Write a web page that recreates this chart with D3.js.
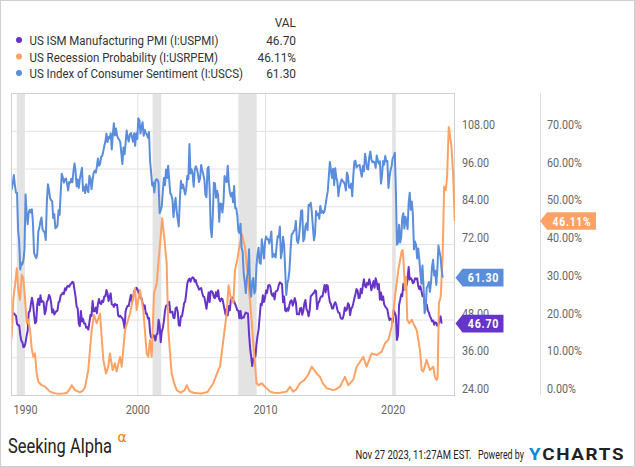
<!DOCTYPE html>
<html><head><meta charset="utf-8">
<script src="https://cdn.jsdelivr.net/npm/d3@7"></script>
<style>html,body{margin:0;padding:0;background:#fff}svg{display:block}</style>
</head><body><svg id="c" width="635" height="467"></svg>
<script>
// ---------- DATA ----------
const seriesNames = ["US ISM Manufacturing PMI (I:USPMI)", "US Recession Probability (I:USRPEM)", "US Index of Consumer Sentiment (I:USCS)"];
const seriesLast = ["46.70", "46.11%", "61.30"];
const startYear = 1990; // monthly series start in Jan 1990

// US Index of Consumer Sentiment, monthly Jan 1990 - Nov 2023
const sentiment = [
93.0,89.5,91.3,93.9,90.6,88.3,88.2,76.4,72.8,63.9,66.0,65.5,
66.8,70.4,87.7,81.8,78.3,82.1,82.9,82.0,83.0,78.3,69.1,68.2,
67.5,68.8,76.0,77.2,79.2,80.4,76.6,76.1,75.6,73.3,85.3,91.0,
89.3,86.6,85.9,85.6,80.3,81.5,77.0,77.3,77.9,82.7,81.2,88.2,
94.3,93.2,91.5,92.6,92.8,91.2,89.0,91.7,91.5,92.7,91.6,95.1,
97.6,95.1,90.3,92.5,89.8,92.7,94.4,96.2,88.9,90.2,88.2,91.0,
89.3,88.5,93.7,92.7,89.4,92.4,94.7,95.3,94.7,96.5,99.2,96.9,
97.4,99.7,100.0,101.4,103.2,104.5,107.1,104.4,106.0,105.6,107.2,102.1,
106.6,110.4,106.5,108.7,106.5,105.6,105.2,104.4,100.9,97.4,102.7,100.5,
103.9,108.1,105.7,104.6,106.8,107.3,106.0,104.5,107.2,103.2,107.2,105.4,
112.0,111.3,107.1,109.2,110.7,106.4,108.3,107.3,106.8,105.8,107.6,98.4,
94.7,90.6,91.5,88.4,92.0,92.6,92.4,91.5,81.8,82.7,83.9,88.8,
93.0,90.7,95.7,93.0,96.9,92.4,88.1,87.6,86.1,80.6,84.2,86.7,
82.4,79.9,77.6,86.0,92.1,89.7,90.9,89.3,87.7,89.6,93.7,92.6,
103.8,94.4,95.8,94.2,90.2,95.6,96.7,95.9,94.2,91.7,92.8,97.1,
95.5,94.1,92.6,87.7,86.9,96.0,96.5,89.1,76.9,74.2,81.6,91.5,
91.2,86.7,88.9,87.4,79.1,84.9,84.7,82.0,85.4,93.6,92.1,91.7,
96.9,91.3,88.4,87.1,88.3,85.3,90.4,83.4,83.4,80.9,76.1,75.5,
78.4,70.8,69.5,62.6,59.8,56.4,61.2,63.0,70.3,57.6,55.3,60.1,
61.2,56.3,57.3,65.1,68.7,70.8,66.0,65.7,73.5,70.6,67.4,72.5,
74.4,73.6,73.6,72.2,73.6,76.0,67.8,68.9,68.2,67.7,71.6,74.5,
74.2,77.5,67.5,69.8,74.3,71.5,63.7,55.8,59.5,60.8,63.7,69.9,
75.0,75.3,76.2,76.4,79.3,73.2,72.3,74.3,78.3,82.6,82.7,72.9,
73.8,77.6,78.6,76.4,84.5,84.1,85.1,82.1,77.5,73.2,75.1,82.5,
81.2,81.6,80.0,84.1,81.9,82.5,81.8,82.5,84.6,86.9,88.8,93.6,
98.1,95.4,93.0,95.9,90.7,96.1,93.1,91.9,87.2,90.0,91.3,92.6,
92.0,91.7,91.0,89.0,94.7,93.5,90.0,89.8,91.2,87.2,93.8,98.2,
98.5,96.3,96.9,97.0,97.1,95.0,93.4,96.8,95.1,100.7,98.5,95.9,
95.7,99.7,101.4,98.8,98.0,98.2,97.9,96.2,100.1,98.6,97.5,98.3,
91.2,93.8,98.4,97.2,100.0,98.2,98.4,89.8,93.2,95.5,96.8,99.3,
99.8,101.0,89.1,71.8,72.3,78.1,72.5,74.1,80.4,81.8,76.9,80.7,
79.0,76.8,84.9,88.3,82.9,85.5,81.2,70.3,72.8,71.7,67.4,70.6,
67.2,62.8,59.4,65.2,58.4,50.0,51.5,58.2,58.6,59.9,56.8,59.7,
64.9,67.0,62.0,63.5,59.0,64.2,71.5,69.5,67.9,63.8,61.3
];

// US ISM Manufacturing PMI, monthly Jan 1990 - Oct 2023
const pmi = [
47.2,49.1,49.9,50.0,49.5,49.2,46.6,46.1,46.2,43.2,41.3,40.8,
39.2,39.4,40.7,42.8,44.5,50.3,50.6,52.9,54.9,53.1,49.5,46.8,
47.3,52.7,54.6,52.6,55.7,53.6,53.9,53.4,49.7,50.7,53.6,54.2,
55.8,55.2,53.4,50.2,51.2,49.6,50.2,50.7,50.8,53.4,53.8,55.6,
56.0,56.5,56.1,57.9,57.3,58.5,58.7,58.4,59.2,59.4,60.0,59.7,
57.4,55.1,52.1,51.5,46.7,45.9,50.7,47.4,48.2,46.7,46.7,45.4,
45.6,44.8,47.1,49.5,49.1,53.9,50.6,50.6,51.8,50.0,52.9,54.5,
53.2,52.9,54.0,53.6,55.3,55.4,57.4,56.3,53.9,55.2,56.3,52.8,
52.7,52.0,53.0,52.6,52.7,49.4,48.9,49.2,48.7,48.4,47.4,45.3,
50.6,51.7,52.4,52.3,54.3,55.8,53.6,54.8,57.0,57.2,58.1,57.8,
56.7,55.8,54.9,54.7,53.2,51.4,52.5,49.9,49.9,48.3,48.5,43.9,
42.3,42.1,43.1,42.7,41.3,43.2,43.5,47.9,46.2,40.8,44.1,45.3,
47.5,50.7,52.4,52.4,53.1,53.6,50.2,50.3,50.5,48.5,48.5,51.6,
51.9,50.5,46.2,46.0,49.0,49.0,51.0,53.2,53.7,56.5,59.5,60.5,
61.0,60.0,61.0,61.4,61.2,60.0,60.5,59.0,58.5,57.5,57.8,58.0,
56.4,55.3,55.2,53.3,51.4,53.8,56.6,53.6,57.0,57.0,56.5,55.0,
54.8,56.7,55.3,57.3,54.4,53.8,54.7,54.5,52.9,51.2,49.5,51.4,
49.3,52.3,50.9,54.7,55.0,53.8,53.8,52.9,52.0,50.9,50.8,48.4,
50.7,48.3,48.6,48.6,49.6,50.2,50.0,49.9,43.5,38.9,36.2,33.2,
35.6,35.8,36.3,40.1,42.8,44.8,48.9,52.9,52.6,55.7,53.6,54.9,
57.2,56.5,58.8,59.0,58.5,56.2,55.5,56.3,54.4,56.9,57.0,57.5,
59.0,59.8,59.5,59.2,53.5,55.3,50.9,50.6,51.6,50.8,52.7,53.9,
54.1,52.4,53.4,54.8,53.5,49.7,49.8,49.6,51.5,51.7,49.5,50.7,
53.1,54.2,51.3,50.7,49.0,50.9,55.4,55.7,56.2,56.4,57.3,57.0,
51.3,53.2,53.7,54.9,55.4,55.3,57.1,59.0,56.6,59.0,58.7,55.5,
53.5,52.9,51.5,51.5,52.8,53.5,52.7,51.1,50.2,50.1,48.6,48.2,
48.2,49.5,51.8,50.8,51.3,53.2,52.6,49.4,51.5,51.9,53.2,54.7,
56.0,57.7,57.2,54.8,54.9,57.8,56.3,58.8,60.8,58.7,58.2,59.7,
59.1,60.8,59.3,57.3,58.7,60.2,58.1,61.1,59.8,57.7,59.3,54.3,
56.6,54.2,55.3,52.8,52.1,51.7,51.2,49.1,47.8,48.3,48.1,47.2,
50.9,50.1,49.1,41.5,43.1,52.6,54.2,56.0,55.4,59.3,57.5,60.7,
58.7,60.8,64.7,60.7,61.2,60.6,59.5,59.9,61.1,60.8,61.1,58.7,
57.6,58.6,57.1,55.4,56.1,53.0,52.8,52.8,50.9,50.2,49.0,48.4,
47.4,47.7,46.3,47.1,46.9,46.0,46.4,47.6,49.0,46.7
];

// US Recession Probability (%), read at these dates (decimal years)
const recDates = [
1990.10,1990.16,1990.29,1990.45,1990.56,1990.68,1990.81,1990.95,1991.07,1991.21,1991.34,1991.46,1991.60,1991.73,1991.86,1991.99,
1992.12,1992.25,1992.51,1992.77,1993.16,1993.50,1993.81,1994.20,1994.47,1994.70,1994.86,1995.12,1995.51,1995.75,1995.90,
1996.16,1996.43,1996.61,1996.82,1997.08,1997.21,1997.34,1997.55,1997.73,1997.86,1998.07,1998.25,1998.38,1998.65,1998.78,
1999.04,1999.43,1999.82,1999.95,2000.21,2000.47,2000.74,2000.86,2000.99,2001.13,2001.31,2001.52,2001.78,2001.95,2002.10,
2002.30,2002.43,2002.69,2002.90,2003.09,2003.40,2003.70,2003.87,2004.10,2004.50,2005.00,2005.50,2005.95,2006.34,2006.48,
2006.74,2007.00,2007.15,2007.30,2007.52,2007.65,2007.83,2008.04,2008.20,2008.30,2008.43,2008.69,2008.95,2009.21,2009.34,
2009.50,2009.74,2010.00,2010.40,2010.70,2011.04,2011.40,2011.70,2011.96,2012.20,2012.45,2012.73,2013.10,2013.40,2013.66,
2014.05,2014.30,2014.55,2014.83,2015.35,2015.60,2015.87,2016.26,2016.52,2016.91,2017.18,2017.44,2017.70,2017.96,2018.35,
2018.75,2019.14,2019.40,2019.66,2019.92,2020.18,2020.44,2020.70,2020.78,2020.86,2020.96,2021.05,2021.14,2021.30,2021.49,
2021.61,2021.88,2022.14,2022.27,2022.40,2022.66,2022.92,2023.18,2023.31,2023.44,2023.52,2023.62,2023.76,2023.91,2024.03,
2024.16,2024.26,2024.39,2024.47,2024.60,2024.73,2024.86
];
const recValues = [
14.0,15.4,25.2,30.0,33.6,27.8,25.2,31.8,31.0,25.6,19.0,20.0,17.2,12.4,10.1,11.0,
5.7,3.5,2.6,2.2,0.9,0.5,0.3,0.4,0.5,1.5,2.6,1.3,0.7,1.2,2.0,
6.6,17.2,21.2,19.0,21.6,15.4,9.3,5.7,7.5,11.0,6.6,8.4,6.2,10.1,7.5,
17.2,21.6,28.3,22.5,27.8,22.5,11.0,10.1,14.6,10.1,26.9,29.6,40.0,46.8,42.0,
34.9,17.2,5.7,3.0,1.3,0.6,1.2,2.6,1.0,0.5,0.4,0.8,3.1,6.6,7.5,
14.6,21.7,29.1,26.0,24.4,33.1,35.8,40.2,42.5,41.0,39.3,30.5,19.9,8.4,3.1,
2.6,3.1,2.2,0.9,0.6,0.5,0.7,0.9,2.2,0.9,1.5,3.1,4.0,5.5,7.5,
5.7,4.8,3.0,1.8,1.3,1.6,2.2,4.8,2.6,4.0,7.5,8.8,10.1,7.5,11.0,
10.6,11.5,13.7,14.6,18.1,26.0,33.1,38.0,38.4,34.9,27.8,31.3,19.9,19.0,19.9,
19.0,17.2,11.9,6.6,6.2,9.3,6.6,7.5,4.8,4.0,4.8,24.3,26.0,36.6,55.2,
54.3,57.8,71.0,69.3,65.8,58.7,46.11
];

const recessionStart = [1990.56, 2001.20, 2007.91, 2019.97];
const recessionEnd   = [1991.20, 2001.88, 2009.35, 2020.24];
const leftTicks  = [24, 36, 48, 60, 72, 84, 96, 108];
const rightTicks = [0, 10, 20, 30, 40, 50, 60, 70];
const yearTicks  = [1990, 2000, 2010, 2020];
const colors = ["#6634c8", "#ffa264", "#5a8ddb"];

// ---------- CHART ----------
const svg = d3.select("#c");
const L = 11, R = 455, T = 93, B = 395;
const font = "Roboto, 'Noto Sans', sans-serif";

// horizontally condense a text (the reference uses a condensed face)
function squeeze(sel, f) {
  sel.each(function() {
    const w = this.getComputedTextLength();
    this.setAttribute("textLength", (w * f).toFixed(2));
    this.setAttribute("lengthAdjust", "spacingAndGlyphs");
  });
}
function fitTo(sel, width) {
  sel.attr("textLength", width).attr("lengthAdjust", "spacingAndGlyphs");
}
// place a text at (x0,y0), scaled horizontally by factor f
function placeScaledBy(sel, x0, y0, f) {
  sel.attr("x", 0).attr("y", 0)
    .attr("transform", `translate(${x0},${y0}) scale(${f},1)`);
}
// place a text at (x0,y0), scaled horizontally to a given width
function placeScaled(sel, x0, y0, width) {
  const w = sel.node().getComputedTextLength();
  placeScaledBy(sel, x0, y0, (width / w).toFixed(4));
}

svg.append("rect").attr("x",0.5).attr("y",0.5).attr("width",634).attr("height",466)
  .attr("fill","#fff").attr("stroke","#cfcfcf");

const x = d3.scaleLinear().domain([1990.11, 2024.88]).range([L, R]);
const yL = d3.scaleLinear().domain([24, 120]).range([B, T]);
const yR = d3.scaleLinear().domain([0, 80]).range([B, T]);

const monthly = (arr) => arr.map((v,i) => ({t: startYear + (i+1)/12, v}));
const sentData = monthly(sentiment);
const pmiData = monthly(pmi);
const recData = recDates.map((t,i) => ({t, v: recValues[i]}));

// recession bands
svg.append("g").selectAll("rect").data(recessionStart).join("rect")
  .attr("x", (d) => Math.max(L, x(d)))
  .attr("width", (d,i) => x(recessionEnd[i]) - Math.max(L, x(d)))
  .attr("y", T).attr("height", B - T).attr("fill", "#e3e3e3");

// horizontal gridlines
const gy = svg.append("g").attr("transform", `translate(${L},0)`)
  .call(d3.axisLeft(yL).tickValues(leftTicks.slice(1)).tickSize(-(R-L)).tickFormat(""));
gy.select(".domain").remove();
gy.selectAll("line").attr("stroke", "#e2e2e2");

// vertical gridlines
const gx = svg.append("g").attr("transform", `translate(0,${B})`)
  .call(d3.axisBottom(x).tickValues(yearTicks.slice(1)).tickSize(-(B-T)).tickFormat(""));
gx.select(".domain").remove();
gx.selectAll("line").attr("stroke", "#e2e2e2");

// plot frame
svg.append("rect").attr("x", L+0.5).attr("y", T+0.5).attr("width", R-L-1).attr("height", B-T)
  .attr("fill", "none").attr("stroke", "#d0d0d0");
svg.append("line").attr("x1", 540.5).attr("x2", 540.5).attr("y1", T).attr("y2", B)
  .attr("stroke", "#dcdcdc");

// lines
svg.append("clipPath").attr("id","plot").append("rect")
  .attr("x", L+1).attr("y", T).attr("width", R-L-1).attr("height", B-T);
const gl = svg.append("g").attr("clip-path","url(#plot)");
const lineL = d3.line().x(d => x(d.t)).y(d => yL(d.v));
const lineR = d3.line().x(d => x(d.t)).y(d => yR(d.v));
gl.append("path").datum(pmiData).attr("d", lineL).attr("fill","none")
  .attr("stroke", colors[0]).attr("stroke-width", 2).attr("stroke-linejoin","round");
gl.append("path").datum(recData).attr("d", lineR).attr("fill","none")
  .attr("stroke", colors[1]).attr("stroke-width", 2).attr("stroke-linejoin","round");
gl.append("path").datum(sentData).attr("d", lineL).attr("fill","none")
  .attr("stroke", colors[2]).attr("stroke-width", 2).attr("stroke-linejoin","round");

// left-value axis labels (the 60.00 label is hidden behind the 61.30 flag in the reference)
const aL = svg.append("g").attr("transform", `translate(462,0)`)
  .call(d3.axisRight(yL).tickValues(leftTicks).tickSize(0).tickPadding(0)
    .tickFormat(d => d === 60 ? "" : d.toFixed(2)));
aL.select(".domain").remove();
aL.selectAll("text").attr("dy", "-0.2em").attr("font-family", font).attr("font-size", 12.5).attr("fill", "#666")
  .filter(d => d !== 60).call(squeeze, 0.86);

// right-value axis labels
const aR = svg.append("g").attr("transform", `translate(547,0)`)
  .call(d3.axisRight(yR).tickValues(rightTicks).tickSize(0).tickPadding(0).tickFormat(d => d.toFixed(2) + "%"));
aR.select(".domain").remove();
aR.selectAll("text").attr("dy", "-0.2em").attr("font-family", font).attr("font-size", 12.5).attr("fill", "#666")
  .call(squeeze, 0.86);

// x axis labels
const aX = svg.append("g").attr("transform", `translate(0,${B})`)
  .call(d3.axisBottom(x).tickValues(yearTicks).tickSize(0).tickPadding(10).tickFormat(d3.format("d")));
aX.select(".domain").remove();
aX.selectAll("text").attr("font-family", font).attr("font-size", 12.5).attr("fill", "#666")
  .attr("text-anchor", d => d === 1990 ? "start" : "middle")
  .attr("x", d => d === 1990 ? 13 - x(d) : 0)
  .call(squeeze, 0.86);

// value flags
function flag(tip, right, cy, color, label) {
  const h = 8.8;
  svg.append("path")
    .attr("d", `M${tip},${cy} L${tip+7},${cy-h} L${right},${cy-h} L${right},${cy+h} L${tip+7},${cy+h} Z`)
    .attr("fill", color);
  svg.append("text").attr("x", (tip + 7 + right)/2 + 0.5).attr("y", cy + 4.7)
    .attr("text-anchor","middle").attr("font-family", font).attr("font-weight","bold")
    .attr("font-size", 13.5).attr("letter-spacing", "1px").attr("fill","#fff").text(label)
    .call(fitTo, label.length > 5 ? 39 : 31.5);
}
flag(540, 596, yR(+seriesLast[1].replace("%","")), colors[1], seriesLast[1]);
flag(455.5, 503.5, yL(+seriesLast[2]), colors[2], seriesLast[2]);
flag(455.5, 503.5, yL(+seriesLast[0]), colors[0], seriesLast[0]);

// legend
svg.append("text").attr("text-anchor","end")
  .attr("font-family", font).attr("font-size", 13.5).attr("fill","#333").text("VAL")
  .call(placeScaledBy, 296, 26.5, 0.88);
const lg = svg.append("g").selectAll("g").data(seriesNames).join("g")
  .attr("transform", (d,i) => `translate(0,${45 + i*16.5})`);
lg.append("circle").attr("cx", 19).attr("cy", -5).attr("r", 3).attr("fill", (d,i) => colors[i]);
lg.append("text").attr("font-family", font).attr("font-size", 13.5).attr("fill","#333")
  .text(d => d).call(placeScaledBy, 29.5, 0, 0.85);
lg.append("text").attr("text-anchor","end").attr("font-family", font).attr("font-size", 13.5)
  .attr("fill","#333").text((d,i) => seriesLast[i]).call(placeScaledBy, 296, 0, 0.88);

// footer
svg.append("text").attr("font-family", font).attr("font-size", 20)
  .attr("fill","#222").text("Seeking Alpha").call(placeScaled, 8, 453, 104);
svg.append("text").attr("x", 117.5).attr("y", 442).attr("font-family", "'DejaVu Sans', sans-serif").attr("font-size", 14)
  .attr("fill","#ff7b00").text("α");
svg.append("text").attr("font-family", font).attr("font-size", 12.5)
  .attr("fill","#222").text("Nov 27 2023, 11:27AM EST.").call(placeScaled, 355.5, 459, 116);
svg.append("text").attr("font-family", font).attr("font-size", 12.5)
  .attr("fill","#222").text("Powered by").call(placeScaled, 478, 459, 46);
const yc = svg.append("text").attr("font-family", font)
  .attr("font-weight", "bold").attr("font-size", 17).attr("letter-spacing", "1.5px");
yc.append("tspan").attr("fill", "#0a8ad8").text("Y");
yc.append("tspan").attr("fill", "#222").text("CHARTS");
placeScaled(yc, 529, 459.5, 96);
</script>
</body></html>
